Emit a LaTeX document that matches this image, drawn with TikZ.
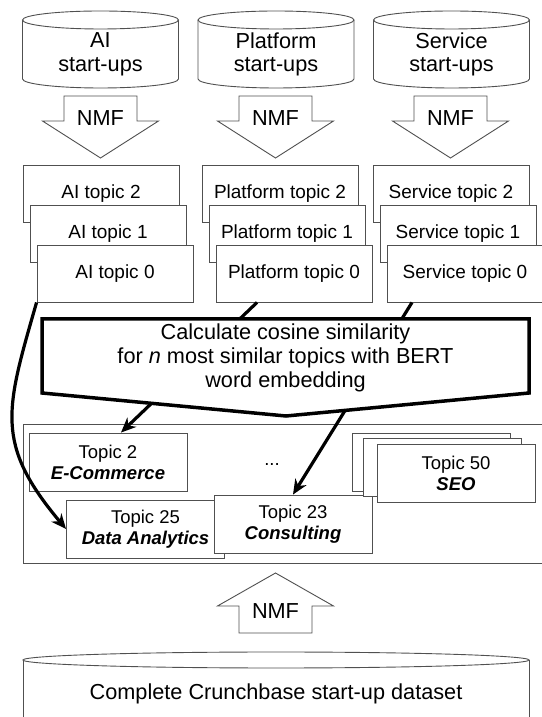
\documentclass[tikz,border=0pt]{standalone}
\usepackage{fontspec}
\setmainfont{Liberation Sans}
\usetikzlibrary{positioning, arrows.meta, calc}
\definecolor{edge}{HTML}{505050}

\begin{document}
\begin{tikzpicture}[x=1pt, y=1pt,
      big/.style={font=\fontsize{21.7}{23.5}\selectfont, align=center, inner sep=0pt},
      block/.style={draw=edge, line width=0.9pt, fill=white},
      topic/.style={draw=edge, line width=0.9pt, fill=white, inner sep=0pt,
        minimum width=156pt, minimum height=57pt, font=\fontsize{19}{21}\selectfont},
      cluster/.style={draw=edge, line width=0.9pt, fill=white, inner sep=0pt, align=center,
        minimum width=158pt, minimum height=58pt, font=\fontsize{18.5}{21}\selectfont},
      flow/.style={-{Stealth[length=15pt, width=13pt]}, line width=3.2pt}]
    \useasboundingbox (0,0) rectangle (541,717);

    % start-up databases
    \draw[block] (22.5,697) -- (22.5,638) arc[start angle=180, end angle=360, x radius=78, y radius=9] -- (178.5,697);
    \draw[block] (100.5,697) ellipse[x radius=78, y radius=9];
    \node[big] (ai) at (100.5,662.5) {AI\\start-ups};
    \draw[block] (198,697) -- (198,638) arc[start angle=180, end angle=360, x radius=78, y radius=9] -- (354,697);
    \draw[block] (276,697) ellipse[x radius=78, y radius=9];
    \node[big] (pl) at (276,662.5) {Platform\\start-ups};
    \draw[block] (373.5,697) -- (373.5,638) arc[start angle=180, end angle=360, x radius=78, y radius=9] -- (529.5,697);
    \draw[block] (451.5,697) ellipse[x radius=78, y radius=9];
    \node[big] (sv) at (451.5,662.5) {Service\\start-ups};

    % NMF arrows
    \draw[block] (64,621) -- (137,621) -- (137,596) -- (158.5,596) -- (100.5,559) -- (42.5,596) -- (64,596) -- cycle;
    \node[big] (nmfai) at (100.5,599) {NMF};
    \draw[block] (239,621) -- (312,621) -- (312,596) -- (333.5,596) -- (275.5,559) -- (217.5,596) -- (239,596) -- cycle;
    \node[big] (nmfpl) at (275.5,599) {NMF};
    \draw[block] (414,621) -- (487,621) -- (487,596) -- (508.5,596) -- (450.5,559) -- (392.5,596) -- (414,596) -- cycle;
    \node[big] (nmfsv) at (450.5,599) {NMF};

    % topics per start-up type
    \node[topic] (ai2) at (101,523.5) {AI topic 2};
    \node[topic] (ai1) at ($(ai2)+(7,-40)$) {AI topic 1};
    \node[topic] (ai0) at ($(ai1)+(7,-40)$) {AI topic 0};
    \node[topic] (pl2) at (280,523.5) {Platform topic 2};
    \node[topic] (pl1) at ($(pl2)+(7,-40)$) {Platform topic 1};
    \node[topic] (pl0) at ($(pl1)+(7,-40)$) {Platform topic 0};
    \node[topic] (sv2) at (451,523.5) {Service topic 2};
    \node[topic] (sv1) at ($(sv2)+(7,-40)$) {Service topic 1};
    \node[topic] (sv0) at ($(sv1)+(7,-40)$) {Service topic 0};

    % topics of the complete dataset
    \draw[draw=edge, line width=0.9pt] (23,154) rectangle (580,293);
    \node[cluster] (t2) at (108,255) {Topic 2\\\textbf{\textit{E-Commerce}}};
    \node[cluster] (t25) at (145.5,188) {Topic 25\\\textbf{\textit{Data Analytics}}};
    \node[cluster] (t23) at (293,193) {Topic 23\\\textbf{\textit{Consulting}}};
    \node[font=\fontsize{18.5}{21}\selectfont] (dots) at (272,252) {...};
    \node[cluster] (t50c) at (431,255) {};
    \node[cluster] (t50b) at ($(t50c)+(11,-5)$) {};
    \node[cluster] (t50) at ($(t50b)+(14,-6)$) {Topic 50\\\textbf{\textit{SEO}}};

    \draw[flow] (ai0.south west) to[out=-106, in=130, looseness=1.25] (t25.west);
    \draw[flow] ($(pl0.south)+(-37,0)$) -- ($(t2.north)+(13,0)$);
    \draw[flow] ($(sv0.south)+(-53,0)$) -- (t23.north);

    % similarity step
    \draw[line width=3.5pt, fill=white] (42,398) -- (529,398) -- (529,324) -- (286,301) -- (42,324) -- cycle;
    \node[big, font=\fontsize{21.7}{24}\selectfont] (cos) at (285.5,359)
      {Calculate cosine similarity\\for \textit{n} most similar topics with BERT\\word embedding};

    % complete dataset
    \draw[block] (239,84) -- (312,84) -- (312,111) -- (333.5,111) -- (275.5,144) -- (217.5,111) -- (239,111) -- cycle;
    \node[big] (nmfall) at (275.5,105.5) {NMF};
    \draw[block] (23,57) -- (23,-20) -- (529,-20) -- (529,57);
    \draw[block] (276,57) ellipse[x radius=253, y radius=8];
    \node[big] (crunch) at (276,23) {Complete Crunchbase start-up dataset};
\end{tikzpicture}
\end{document}
